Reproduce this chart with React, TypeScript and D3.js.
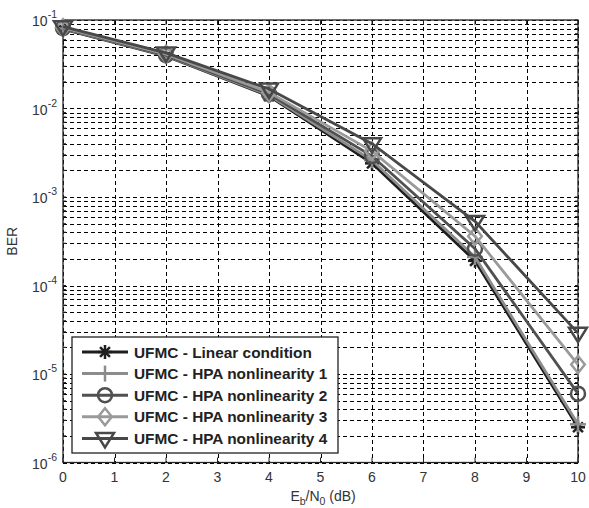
import React from "react";
import * as d3 from "d3";

const xValues = [0, 2, 4, 6, 8, 10];
const seriesNames = [
  "UFMC - Linear condition",
  "UFMC - HPA nonlinearity 1",
  "UFMC - HPA nonlinearity 2",
  "UFMC - HPA nonlinearity 3",
  "UFMC - HPA nonlinearity 4",
];
const linearBER = [0.079, 0.039, 0.0138, 0.0024, 1.9e-4, 2.5e-6];
const hpa1BER = [0.08, 0.0395, 0.0141, 0.0026, 2.1e-4, 2.7e-6];
const hpa2BER = [0.081, 0.04, 0.0146, 0.0029, 2.6e-4, 6.0e-6];
const hpa3BER = [0.082, 0.041, 0.0152, 0.0033, 3.6e-4, 1.28e-5];
const hpa4BER = [0.084, 0.0425, 0.0166, 0.004, 5.3e-4, 2.9e-5];
const xTicks = [0, 1, 2, 3, 4, 5, 6, 7, 8, 9, 10];
const yExponents = [-1, -2, -3, -4, -5, -6];

const allSeries = [linearBER, hpa1BER, hpa2BER, hpa3BER, hpa4BER];
const colors = ["#1e1e1e", "#8c8c8c", "#505050", "#9a9a9a", "#484848"];
const markers = ["star", "plus", "circle", "diamond", "triangle"];

const W = 589;
const H = 508;
const m = { left: 63, right: 578, top: 20, bottom: 462.5 };

const x = d3.scaleLinear().domain([0, 10]).range([m.left, m.right]);
const y = d3.scaleLog().domain([1e-6, 1e-1]).range([m.bottom, m.top]);

function Marker({ type, cx, cy, color }: { type: string; cx: number; cy: number; color: string }) {
  const sw = 2.5;
  if (type === "star") {
    const r = 7;
    const lines = [0, 45, 90, 135].map((a) => {
      const rad = (a * Math.PI) / 180;
      return (
        <line
          key={a}
          x1={cx - r * Math.cos(rad)}
          y1={cy - r * Math.sin(rad)}
          x2={cx + r * Math.cos(rad)}
          y2={cy + r * Math.sin(rad)}
          stroke={color}
          strokeWidth={sw}
        />
      );
    });
    return <g>{lines}</g>;
  }
  if (type === "plus") {
    const r = 8;
    return (
      <g stroke={color} strokeWidth={sw}>
        <line x1={cx - r} y1={cy} x2={cx + r} y2={cy} />
        <line x1={cx} y1={cy - r} x2={cx} y2={cy + r} />
      </g>
    );
  }
  if (type === "circle") {
    return <circle cx={cx} cy={cy} r={7} fill="none" stroke={color} strokeWidth={sw} />;
  }
  if (type === "diamond") {
    const r = 8.5;
    return (
      <path
        d={`M${cx},${cy - r}L${cx + r * 0.8},${cy}L${cx},${cy + r}L${cx - r * 0.8},${cy}Z`}
        fill="none"
        stroke={color}
        strokeWidth={sw}
      />
    );
  }
  const r = 9;
  return (
    <path
      d={`M${cx - r},${cy - r * 0.6}L${cx + r},${cy - r * 0.6}L${cx},${cy + r}Z`}
      fill="none"
      stroke={color}
      strokeWidth={sw}
      strokeLinejoin="miter"
    />
  );
}

export default function App() {
  const minorY: number[] = [];
  for (let e = -6; e < -1; e++) {
    for (let k = 1; k <= 9; k++) {
      const v = k * Math.pow(10, e);
      if (v <= 0.1) minorY.push(v);
    }
  }
  minorY.push(0.1);
  const line = d3
    .line<number>()
    .x((_, i) => x(xValues[i]))
    .y((d) => y(d));
  const font = "Arial, 'Liberation Sans', Helvetica, sans-serif";
  const legX = 72, legY = 337, legW = 266, legH = 116;
  const rowH = 21.6;
  return (
    <svg width={W} height={H} style={{ position: "absolute", left: 0, top: 0, background: "#fff" }} fontFamily={font}>
      <rect x={0} y={0} width={W} height={H} fill="#fff" />
      {/* grid */}
      <g stroke="#000" strokeWidth={1} strokeDasharray="4,3" fill="none">
        {minorY.map((v, i) => (
          <line key={"gy" + i} x1={m.left} x2={m.right} y1={Math.round(y(v)) + 0.5} y2={Math.round(y(v)) + 0.5} />
        ))}
        {xTicks.map((t) => (
          <line key={"gx" + t} x1={Math.round(x(t)) + 0.5} x2={Math.round(x(t)) + 0.5} y1={m.top} y2={m.bottom} />
        ))}
      </g>
      {/* axes box */}
      <rect x={m.left} y={m.top} width={m.right - m.left} height={m.bottom - m.top} fill="none" stroke="#222" strokeWidth={1.3} />
      {/* ticks */}
      <g stroke="#222" strokeWidth={1}>
        {xTicks.map((t) => (
          <g key={"tx" + t}>
            <line x1={x(t)} x2={x(t)} y1={m.bottom} y2={m.bottom - 5} />
            <line x1={x(t)} x2={x(t)} y1={m.top} y2={m.top + 5} />
          </g>
        ))}
        {minorY.map((v, i) => (
          <g key={"ty" + i}>
            <line x1={m.left} x2={m.left + 3} y1={y(v)} y2={y(v)} />
            <line x1={m.right} x2={m.right - 3} y1={y(v)} y2={y(v)} />
          </g>
        ))}
      </g>
      {/* tick labels */}
      <g fontSize={14} fill="#333">
        {xTicks.map((t) => (
          <text key={"lx" + t} x={x(t)} y={m.bottom + 19} textAnchor="middle">
            {t}
          </text>
        ))}
        {yExponents.map((e) => (
          <text key={"ly" + e} x={m.left - 6} y={y(Math.pow(10, e)) + 6} textAnchor="end">
            <tspan>10</tspan>
            <tspan fontSize={10.5} dy={-8}>{String(e)}</tspan>
          </text>
        ))}
      </g>
      {/* axis labels */}
      <text x={x(5.05)} y={m.bottom + 38} textAnchor="middle" fontSize={14} fill="#333">
        <tspan>E</tspan>
        <tspan fontSize={10.5} dy={4}>b</tspan>
        <tspan dy={-4}>/N</tspan>
        <tspan fontSize={10.5} dy={4}>0</tspan>
        <tspan dy={-4}> (dB)</tspan>
      </text>
      <text transform={`translate(17,${(m.top + m.bottom) / 2}) rotate(-90)`} textAnchor="middle" fontSize={14} fill="#333">
        BER
      </text>
      {/* series */}
      {allSeries.map((s, si) => (
        <g key={"s" + si}>
          <path d={line(s) || ""} fill="none" stroke={colors[si]} strokeWidth={2.8} />
          {s.map((v, i) => (
            <Marker key={i} type={markers[si]} cx={x(xValues[i])} cy={y(v)} color={colors[si]} />
          ))}
        </g>
      ))}
      {/* legend */}
      <rect x={legX} y={legY} width={legW} height={legH} fill="#fff" stroke="#222" strokeWidth={1.3} />
      {seriesNames.map((n, i) => {
        const cy = legY + 15 + i * rowH;
        return (
          <g key={"lg" + i}>
            <line x1={82} x2={128} y1={cy} y2={cy} stroke={colors[i]} strokeWidth={3} />
            <Marker type={markers[i]} cx={105} cy={cy} color={colors[i]} />
            <text x={134} y={cy + 5.5} fontSize={15.4} fontWeight="bold" fill="#222">
              {n}
            </text>
          </g>
        );
      })}
    </svg>
  );
}
